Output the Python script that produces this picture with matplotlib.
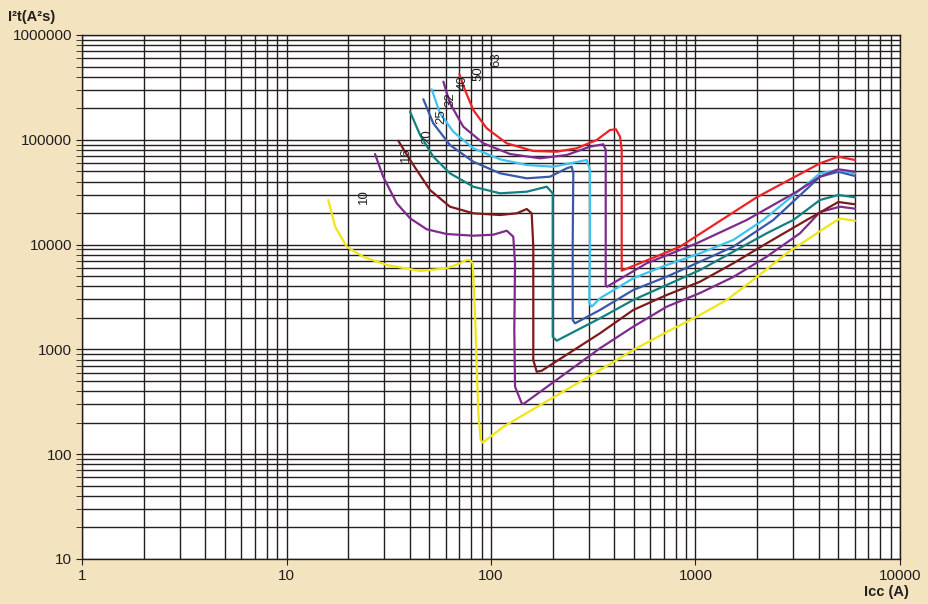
import numpy as np
import matplotlib
matplotlib.use("Agg")
import matplotlib.pyplot as plt
from matplotlib.ticker import LogLocator, FuncFormatter, NullFormatter

plt.rcParams['font.family'] = ['Liberation Sans', 'DejaVu Sans']

# let-through energy curves, one per breaker rating (Icc in A, I2t in A2s)
ratings = ["10", "16", "20", "25", "32", "40", "50", "63"]
colors = ["#f0e614", "#7e2b8c", "#7d1a1c", "#12807f", "#3a58a8", "#3cc3ef", "#7e2b8c", "#ee2226"]

icc_10 = [16.0, 17.3, 19.7, 23.7, 30.9, 45.0, 60.7, 70.5, 76.1, 78.9, 81.4, 83.5, 86.7, 89.0, 91.1,
          115, 341, 496, 723, 1014, 1421, 1911, 2793, 4381, 5089, 6026]
i2t_10 = [26650, 14820, 9550, 7666, 6389, 5600, 5941, 6632, 7131, 7131, 6632, 2225, 247, 137, 129,
          183, 636, 987, 1466, 2051, 2961, 4595, 8260, 14820, 17740, 16910]

icc_16 = [27.1, 29.7, 34.6, 40.2, 48.5, 60.7, 81.9, 102.6, 119.4, 128.5, 131.1, 130, 131.1, 141.3, 143.9,
          341, 496, 723, 1052, 1530, 2229, 3243, 4063, 5089, 6026]
i2t_16 = [73170, 44450, 24780, 17820, 14000, 12620, 12160, 12430, 13570, 11900, 6632, 1531, 441, 306, 301,
          1024, 1647, 2555, 3452, 4908, 7666, 12820, 20470, 23000, 22010]

icc_20 = [35.2, 40.2, 50.3, 63.0, 81.9, 110.7, 133.6, 149.5, 158.1, 161.0, 161.0, 167.3, 177.0,
          341, 496, 723, 1052, 1530, 2229, 3498, 4994, 6026]
i2t_20 = [98000, 64170, 33190, 23000, 19890, 19160, 19890, 21860, 19890, 9550, 792, 612, 626,
          1424, 2377, 3305, 4426, 6632, 10290, 17170, 25500, 24240]

icc_25 = [40.2, 45.0, 52.2, 63.0, 81.9, 110.7, 149.5, 187.3, 200.3, 200.3, 209.6,
          341, 496, 723, 1052, 1530, 2229, 3008, 4063, 4994, 6026]
i2t_25 = [185400, 111100, 68980, 47900, 35680, 30870, 31970, 35680, 30870, 1322, 1211,
          1980, 2961, 4116, 5722, 8553, 12820, 17170, 26650, 29740, 28270]

icc_32 = [46.7, 52.2, 63.0, 81.9, 110.7, 149.5, 194.3, 234.6, 248.1, 252.6, 250.9, 250.9, 257.5,
          341, 496, 723, 1052, 1530, 2402, 4063, 4994, 6026]
i2t_32 = [243500, 143700, 89200, 61800, 47900, 42910, 44450, 53480, 55380, 47900, 10290, 1908, 1774,
          2377, 3688, 4941, 6868, 9550, 17170, 44450, 49620, 45140]

icc_40 = [51.3, 56.3, 65.4, 81.9, 110.7, 149.5, 201.7, 252.6, 293.8, 304.9, 304.9, 302.5, 310.8,
          341, 496, 723, 1052, 1530, 2146, 4063, 4994, 6026]
i2t_40 = [303300, 179000, 119500, 82970, 65150, 57480, 55380, 60460, 64170, 51500, 10290, 2772, 2555,
          3073, 4770, 6389, 8260, 11070, 17170, 47900, 51500, 47900]

icc_50 = [58.5, 63.0, 73.2, 91.7, 123.9, 173.6, 234.6, 304.9, 354, 363.8, 363.8, 369.2,
          577, 1014, 1780, 3125, 4063, 4994, 6026]
i2t_50 = [358400, 222900, 133400, 92590, 73170, 66600, 71610, 85960, 90610, 79950, 4116, 3965,
          6632, 10290, 17170, 31970, 44450, 52300, 49620]

icc_63 = [70.0, 74.6, 81.9, 95.3, 119.4, 161.0, 209.6, 262.5, 328.8, 381.9, 408.5, 427.4, 435.6, 435.6,
          840, 1992, 4063, 4994, 6026]
i2t_63 = [424500, 298700, 192400, 128800, 92590, 78200, 77000, 82970, 99560, 124000, 126000, 107100, 79950, 5636,
          9550, 28270, 59670, 68980, 64170]

# where the rating numbers sit next to the curve tops
label_icc = [23.9, 38.4, 49.0, 57.4, 63.7, 72.9, 86.7, 106.6]
label_i2t = [28650, 71610, 107100, 166100, 239800, 350600, 430900, 577500]

curves = [(icc_10, i2t_10), (icc_16, i2t_16), (icc_20, i2t_20), (icc_25, i2t_25),
          (icc_32, i2t_32), (icc_40, i2t_40), (icc_50, i2t_50), (icc_63, i2t_63)]

bg = "#f3e3bf"
fig = plt.figure(figsize=(9.29, 6.04), dpi=100, facecolor=bg)
ax = fig.add_axes([82 / 929, 1 - 559 / 604, 818 / 929, 524 / 604])
ax.set_facecolor("white")
ax.set_xscale("log")
ax.set_yscale("log")
ax.set_xlim(1, 10000)
ax.set_ylim(10, 1000000)

for ax_ in (ax.xaxis, ax.yaxis):
    ax_.set_major_locator(LogLocator(base=10, numticks=20))
    ax_.set_minor_locator(LogLocator(base=10, subs=np.arange(2, 10), numticks=20))
    ax_.set_minor_formatter(NullFormatter())
    ax_.set_major_formatter(FuncFormatter(lambda v, _: "%d" % round(v)))

ax.grid(which="both", color="#231f20", lw=1.0)
ax.set_axisbelow(True)
for s in ax.spines.values():
    s.set_color("#231f20")
    s.set_linewidth(1.0)

ax.tick_params(axis="both", which="both", direction="out", color="#231f20", labelcolor="#231f20",
               labelsize=11)
ax.tick_params(axis="y", which="both", length=4, pad=3)
ax.tick_params(axis="x", which="major", length=4, pad=3)
ax.tick_params(axis="x", which="minor", length=0)

for (xs, ys), c in zip(curves, colors):
    ax.plot(xs, ys, color=c, lw=1.6, solid_joinstyle="round", solid_capstyle="round", zorder=3)

for lab, lx, ly in zip(ratings, label_icc, label_i2t):
    ax.text(lx, ly, lab, rotation=90, ha="center", va="center", fontsize=9.5, color="#231f20", zorder=4)

fig.text(8 / 929, 1 - 17 / 604, "I²t(A²s)", ha="left", va="center", fontsize=10.5,
         fontweight="bold", color="#231f20")
fig.text(909 / 929, 1 - 592 / 604, "Icc (A)", ha="right", va="center", fontsize=10.5,
         fontweight="bold", color="#231f20")

fig.savefig("out.png", dpi=100, facecolor=bg)
